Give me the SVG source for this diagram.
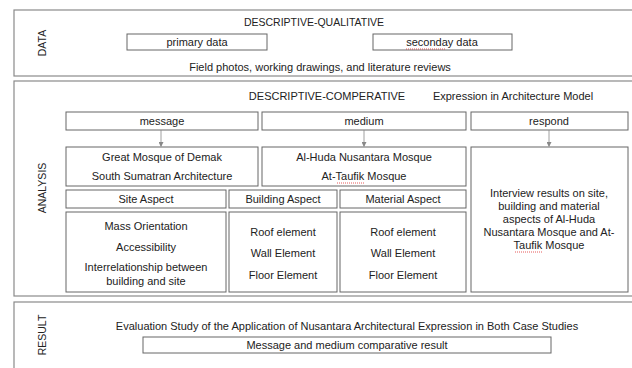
<svg xmlns="http://www.w3.org/2000/svg" width="632" height="368" viewBox="0 0 632 368">
<style>
.panel{fill:#fff;stroke:#8a8a8a;stroke-width:1.2}
.box{fill:#fff;stroke:#666;stroke-width:1}
text{font-family:"Liberation Sans",Arial,sans-serif;font-size:11px;fill:#222;text-anchor:middle}
.side{font-size:10.5px}
.conn{stroke:#888;stroke-width:0.8;fill:none}
.spell{stroke:#e03030;stroke-width:0.8;stroke-dasharray:1 1;fill:none}
</style>
<defs>
<marker id="ah" markerWidth="5" markerHeight="5" refX="4" refY="2.5" orient="auto" markerUnits="userSpaceOnUse">
<path d="M0,0 L5,2.5 L0,5 z" fill="#888"/>
</marker>
</defs>
<rect width="632" height="368" fill="#fff"/>
<g id="data-panel">
<rect class="panel" x="14" y="10" width="630" height="66"/>
<text class="side" transform="translate(46,43) rotate(-90)">DATA</text>
<text class="side" x="314" y="26">DESCRIPTIVE-QUALITATIVE</text>
<text x="320" y="71">Field photos, working drawings, and literature reviews</text>
</g>
<g id="primary"><rect class="box" x="127" y="34" width="140" height="16"/><text x="197" y="46">primary data</text></g>
<g id="secondary"><rect class="box" x="373" y="34" width="139" height="16"/><text x="442" y="46">seconday data</text><path class="spell" d="M406,49 H446"/></g>
<g id="analysis-panel">
<rect class="panel" x="14" y="81" width="630" height="215"/>
<text class="side" transform="translate(46,188) rotate(-90)">ANALYSIS</text>
<text x="327" y="100">DESCRIPTIVE-COMPERATIVE</text>
<text x="513" y="100">Expression in Architecture Model</text>
</g>
<g id="message"><rect class="box" x="66" y="112" width="192" height="18"/><text x="162" y="125">message</text></g>
<g id="medium"><rect class="box" x="262" y="112" width="204" height="18"/><text x="364" y="125">medium</text></g>
<g id="respond"><rect class="box" x="471" y="112" width="157" height="18"/><text x="549" y="125">respond</text></g>
<g id="connectors">
<line class="conn" x1="161" y1="130" x2="161" y2="146" marker-end="url(#ah)"/>
<line class="conn" x1="364" y1="130" x2="364" y2="146" marker-end="url(#ah)"/>
<line class="conn" x1="549" y1="130" x2="549" y2="146" marker-end="url(#ah)"/>
</g>
<g id="message-cases"><rect class="box" x="66" y="147" width="192" height="39"/><text x="162" y="161">Great Mosque of Demak</text><text x="162" y="180">South Sumatran Architecture</text></g>
<g id="medium-cases"><rect class="box" x="262" y="147" width="204" height="39"/><text x="364" y="161">Al-Huda Nusantara Mosque</text><text x="364" y="180">At-Taufik Mosque</text><path class="spell" d="M337,183 H365"/></g>
<g id="interview"><rect class="box" x="471" y="147" width="157" height="145"/>
<text x="549" y="197">Interview results on site,</text>
<text x="549" y="210">building and material</text>
<text x="549" y="223">aspects of Al-Huda</text>
<text x="549" y="236">Nusantara Mosque and At-</text>
<text x="549" y="249">Taufik Mosque</text>
<path class="spell" d="M515,252 H543"/></g>
<g id="site-aspect"><rect class="box" x="66" y="190" width="160" height="18"/><text x="146" y="203">Site Aspect</text></g>
<g id="building-aspect"><rect class="box" x="229" y="190" width="108" height="18"/><text x="283" y="203">Building Aspect</text></g>
<g id="material-aspect"><rect class="box" x="340" y="190" width="126" height="18"/><text x="403" y="203">Material Aspect</text></g>
<g id="site-items"><rect class="box" x="66" y="212" width="160" height="80"/>
<text x="146" y="230">Mass Orientation</text>
<text x="146" y="251">Accessibility</text>
<text x="146" y="271">Interrelationship between</text>
<text x="146" y="285">building and site</text></g>
<g id="building-items"><rect class="box" x="229" y="212" width="108" height="80"/>
<text x="283" y="236">Roof element</text>
<text x="283" y="257">Wall Element</text>
<text x="283" y="279">Floor Element</text></g>
<g id="material-items"><rect class="box" x="340" y="212" width="126" height="80"/>
<text x="403" y="236">Roof element</text>
<text x="403" y="257">Wall Element</text>
<text x="403" y="279">Floor Element</text></g>
<g id="result-panel">
<rect class="panel" x="14" y="302" width="630" height="80"/>
<text class="side" transform="translate(46,335) rotate(-90)">RESULT</text>
<text x="347" y="330">Evaluation Study of the Application of Nusantara Architectural Expression in Both Case Studies</text>
</g>
<g id="comparative"><rect class="box" x="143" y="337" width="408" height="16"/><text x="347" y="349">Message and medium comparative result</text></g>
</svg>
